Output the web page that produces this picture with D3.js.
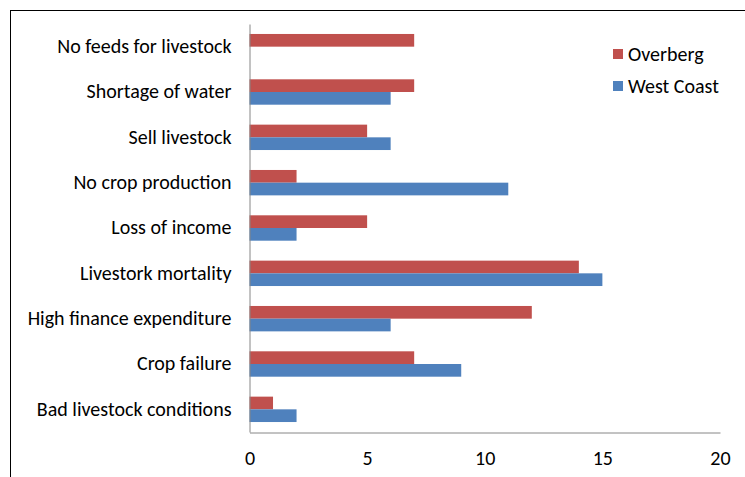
<!DOCTYPE html>
<html><head><meta charset="utf-8">
<script src="https://cdn.jsdelivr.net/npm/d3@7"></script>
<style>body{margin:0;background:#fff;}svg{display:block;}</style>
</head><body>
<script>
const categories = ["No feeds for livestock","Shortage of water","Sell livestock","No crop production","Loss of income","Livestork mortality","High finance expenditure","Crop failure","Bad livestock conditions"];
const overberg = [7,7,5,2,5,14,12,7,1];
const westCoast = [0,6,6,11,2,15,6,9,2];
const seriesNames = ["Overberg","West Coast"];
const xTicks = [0,5,10,15,20];

(function(){
const W = 745, H = 477;
const svg = d3.select("body").append("svg").attr("width", W).attr("height", H);
svg.append("rect").attr("x",10.5).attr("y",10.5).attr("width",W).attr("height",H)
  .attr("fill","none").attr("stroke","#000").attr("stroke-width",1);

const mLeft = 249.5, mRight = 720, mTop = 24, mBottom = 432;
const x = d3.scaleLinear().domain([0,20]).range([mLeft,mRight]);
const y = d3.scaleBand().domain(categories).range([mTop,mBottom]).paddingInner(0.44).paddingOuter(0.22);
const ys = d3.scaleBand().domain(seriesNames).range([0,y.bandwidth()]);
const colors = {"Overberg":"#C0504D","West Coast":"#4F81BD"};

const data = categories.map((c,i)=>({c, vals:[{s:"Overberg",v:overberg[i]},{s:"West Coast",v:westCoast[i]}]}));
const g = svg.append("g");
g.selectAll("g.cat").data(data).join("g").attr("class","cat")
  .attr("transform", d=>`translate(0,${y(d.c)})`)
  .selectAll("rect").data(d=>d.vals.filter(e=>e.v>0)).join("rect")
  .attr("x", x(0)).attr("y", e=>ys(e.s)).attr("height", ys.bandwidth())
  .attr("width", e=>x(e.v)-x(0)).attr("fill", e=>colors[e.s]);

const font = "Carlito, Lato, 'Open Sans', sans-serif";
const fs = 20;
const ya = svg.append("g").attr("transform",`translate(${mLeft},0)`)
  .call(d3.axisLeft(y).tickSize(0).tickPadding(18));
ya.select(".domain").attr("stroke","#868686");
ya.selectAll("text").attr("font-family",font).attr("font-size",fs).attr("fill","#000");
const xa = svg.append("g").attr("transform",`translate(0,${mBottom+0.5})`)
  .call(d3.axisBottom(x).tickValues(xTicks).tickSize(0).tickPadding(18));
xa.select(".domain").attr("stroke","#868686");
xa.selectAll("text").attr("font-family",font).attr("font-size",fs).attr("fill","#000");

const lg = svg.append("g");
seriesNames.forEach((s,i)=>{
  const yy = 54 + i*32;
  lg.append("rect").attr("x",613).attr("y",yy-5).attr("width",10).attr("height",10).attr("fill",colors[s]);
  lg.append("text").attr("x",628).attr("y",yy).attr("dy","0.35em").attr("font-family",font).attr("font-size",fs).text(s);
});
})();
</script>
</body></html>
